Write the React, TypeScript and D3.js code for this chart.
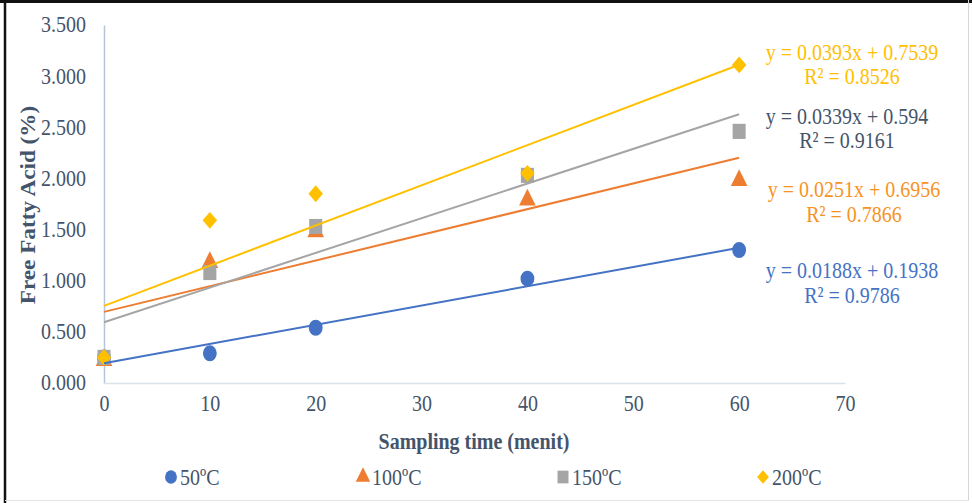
import React, { useEffect, useRef } from "react";
import * as d3 from "d3";

// sampling times (menit)
const times = [0, 10, 20, 40, 60];

const series = ["50ºC", "100ºC", "150ºC", "200ºC"];
const ffa50 = [0.25, 0.29, 0.54, 1.02, 1.3];
const ffa100 = [0.22, 1.18, 1.48, 1.79, 1.98];
const ffa150 = [0.25, 1.08, 1.53, 2.03, 2.46];
const ffa200 = [0.25, 1.59, 1.85, 2.05, 3.11];

// trendline coefficients
const slopes = [0.0188, 0.0251, 0.0339, 0.0393];
const intercepts = [0.1938, 0.6956, 0.594, 0.7539];
const eqLabels = [
  "y = 0.0188x + 0.1938",
  "y = 0.0251x + 0.6956",
  "y = 0.0339x + 0.594",
  "y = 0.0393x + 0.7539",
];
const r2Labels = ["R² = 0.9786", "R² = 0.7866", "R² = 0.9161", "R² = 0.8526"];

const xTicks = [0, 10, 20, 30, 40, 50, 60, 70];
const yTicks = [0, 0.5, 1, 1.5, 2, 2.5, 3, 3.5];

const colors = ["#4472c4", "#ed7d31", "#a5a5a5", "#ffc000"];
const eqColors = ["#4472c4", "#f7931e", "#44546a", "#ffc000"];
const textColor = "#44546a";
const font = "'Liberation Serif', 'Times New Roman', serif";
const SY = 1.16; // vertical stretch of the original picture

export default function App() {
  const ref = useRef<SVGSVGElement>(null);

  useEffect(() => {
    const svg = d3.select(ref.current);
    svg.selectAll("*").remove();

    const x = d3.scaleLinear().domain([0, 70]).range([104, 845]);
    const y = d3.scaleLinear().domain([0, 3.5]).range([383, 25]);

    // frame
    svg.append("rect").attr("width", 972).attr("height", 503).attr("fill", "#fff");
    svg.append("line").attr("x1", 0).attr("x2", 972).attr("y1", 1.5).attr("y2", 1.5).attr("stroke", "#111").attr("stroke-width", 3);
    svg.append("line").attr("x1", 5).attr("x2", 5).attr("y1", 0).attr("y2", 503).attr("stroke", "#111").attr("stroke-width", 2.5);
    svg.append("line").attr("x1", 968.5).attr("x2", 968.5).attr("y1", 0).attr("y2", 501).attr("stroke", "#d6d6d6").attr("stroke-width", 1);
    svg.append("line").attr("x1", 5).attr("x2", 969).attr("y1", 500.5).attr("y2", 500.5).attr("stroke", "#e4e4e4").attr("stroke-width", 1);

    // axes
    const yAxis = svg.append("g").attr("transform", `translate(${x(0)},0)`)
      .call(d3.axisLeft(y).tickValues(yTicks).tickFormat(d3.format(".3f")).tickSize(0).tickPadding(18));
    yAxis.select(".domain").attr("stroke", "#b4c6dc").attr("stroke-width", 1.5);
    yAxis.selectAll("text").attr("font-family", font).attr("font-size", 20).attr("fill", textColor)
      .attr("transform", `scale(1,${SY})`).attr("dy", "0.3em").attr("y", 0);

    const xAxis = svg.append("g").attr("transform", `translate(0,${y(0)})`)
      .call(d3.axisBottom(x).tickValues(xTicks).tickFormat(d3.format("d")).tickSize(0).tickPadding(18));
    xAxis.select(".domain").attr("stroke", "#d9e1ea").attr("stroke-width", 1.5);
    xAxis.selectAll("text").attr("font-family", font).attr("font-size", 20).attr("fill", textColor)
      .attr("transform", `scale(1,${SY})`).attr("y", 10).attr("dy", "0.71em");

    // axis titles
    svg.append("text").attr("transform", `translate(28,205) scale(1,${SY}) rotate(-90)`)
      .attr("text-anchor", "middle").attr("dy", "0.35em").attr("font-family", font).attr("font-weight", "bold")
      .attr("font-size", 20).attr("fill", textColor).text("Free Fatty Acid (%)");
    svg.append("text").attr("transform", `translate(474,441) scale(1,${SY})`)
      .attr("text-anchor", "middle").attr("dy", "0.35em").attr("font-family", font).attr("font-weight", "bold")
      .attr("font-size", 20).attr("fill", textColor).text("Sampling time (menit)");

    // diamond = square turned 45 degrees
    const symbols = [d3.symbolCircle, d3.symbolTriangle, d3.symbolSquare, d3.symbolSquare];
    const turn = [0, 0, 0, 45];
    const sizes = [150, 120, 170, 105];
    const values = [ffa50, ffa100, ffa150, ffa200];

    // markers
    values.forEach((vals, i) => {
      svg.append("g").selectAll("path").data(times).join("path")
        .attr("transform", (t, j) => `translate(${x(t)},${y(vals[j])}) scale(1,${SY}) rotate(${turn[i]})`)
        .attr("d", d3.symbol().type(symbols[i]).size(sizes[i])())
        .attr("fill", colors[i]);
    });

    // trendlines
    values.forEach((_, i) => {
      const ends = [0, 60];
      const line = d3.line<number>().x((t) => x(t)).y((t) => y(slopes[i] * t + intercepts[i]));
      svg.append("path").attr("d", line(ends)).attr("fill", "none")
        .attr("stroke", colors[i]).attr("stroke-width", 2);
    });

    // equation labels
    const eqPos = [[852, 270, 295], [854, 189, 214], [847, 116, 140], [852, 52, 76]];
    eqLabels.forEach((lbl, i) => {
      const [cx, y1, y2] = eqPos[i];
      [lbl, r2Labels[i]].forEach((t, k) => {
        svg.append("text").attr("transform", `translate(${cx},${k ? y2 : y1}) scale(1,${SY})`)
          .attr("text-anchor", "middle").attr("dy", "0.35em").attr("font-family", font)
          .attr("font-size", 20).attr("fill", eqColors[i]).text(t);
      });
    });

    // legend
    const legX = [171, 363, 563, 763];
    const legSizes = [110, 90, 120, 70];
    series.forEach((name, i) => {
      const g = svg.append("g").attr("transform", `translate(${legX[i]},477)`);
      g.append("path").attr("transform", `scale(1,${SY}) rotate(${turn[i]})`)
        .attr("d", d3.symbol().type(symbols[i]).size(legSizes[i])()).attr("fill", colors[i]);
      g.append("text").attr("x", 9).attr("transform", `scale(1,${SY})`).attr("dy", "0.35em")
        .attr("font-family", font).attr("font-size", 20).attr("fill", textColor).text(name);
    });
  }, []);

  return (
    <svg ref={ref} width={972} height={503} style={{ position: "absolute", left: 0, top: 0 }} />
  );
}
